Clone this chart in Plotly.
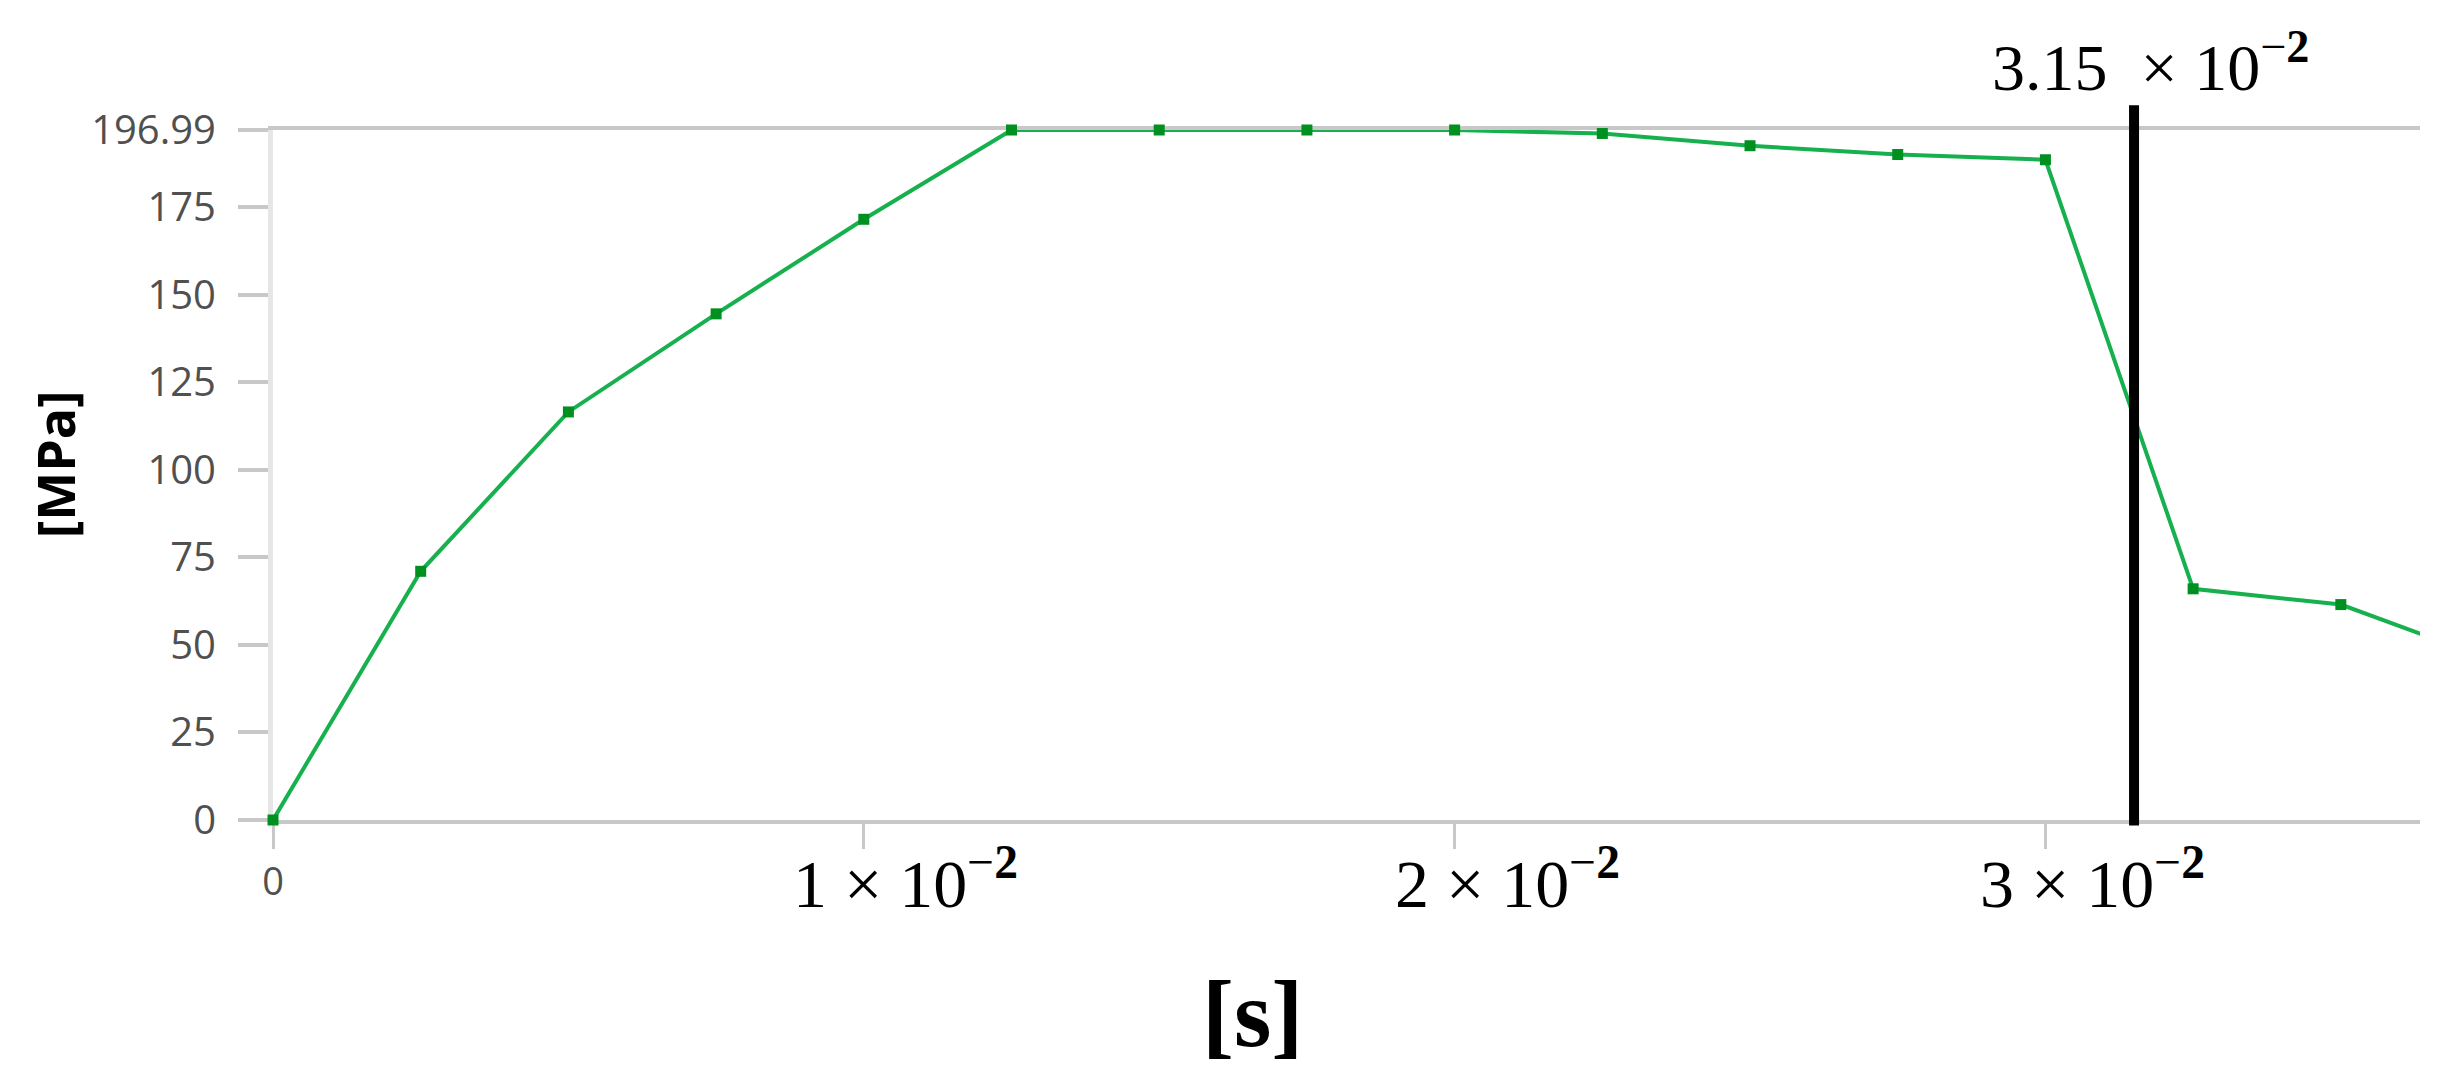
import plotly.graph_objects as go

# time [s] and equivalent stress [MPa]
time_s = [0, 0.0025, 0.005, 0.0075, 0.01, 0.0125, 0.015, 0.0175, 0.02,
          0.0225, 0.025, 0.0275, 0.03, 0.0325, 0.035, 0.0375]
stress_mpa = [0, 71, 116.5, 144.5, 171.5, 196.99, 196.99, 196.99, 196.99,
              196, 192.5, 190, 188.5, 66, 61.5, 46]

y_ticks = [0, 25, 50, 75, 100, 125, 150, 175, 196.99]
y_ticktext = ["0", "25", "50", "75", "100", "125", "150", "175", "196.99"]

x_ticks = [0, 0.01, 0.02, 0.03]
x_label_vals = [0.01, 0.02, 0.03]
x_label_text = ["1 × 10<sup>−<b>2</b></sup>", "2 × 10<sup>−<b>2</b></sup>",
                "3 × 10<sup>−<b>2</b></sup>"]
x_label_shift = [42, 53, 47]

marker_time = 0.0315
marker_text = "3.15&nbsp; × 10<sup>−<b>2</b></sup>"

x_max = 0.03634
y_max = 196.99

serif = "Liberation Serif"
sans = "Open Sans"

fig = go.Figure()
fig.add_trace(go.Scatter(
    x=time_s, y=stress_mpa, mode="lines+markers",
    line=dict(color="#17b04e", width=4),
    marker=dict(symbol="square", size=11, color="#009020"),
    cliponaxis=False, hoverinfo="skip", showlegend=False))

# vertical marker at t = 3.15e-2
fig.add_shape(type="line", xref="x", yref="paper",
              x0=marker_time, x1=marker_time, y0=-0.008, y1=1.036,
              line=dict(color="black", width=10))

annotations = []
for v, t, s in zip(x_label_vals, x_label_text, x_label_shift):
    annotations.append(dict(x=v, y=-0.085, xref="x", yref="paper", text=t,
                            showarrow=False, xshift=s, yanchor="middle",
                            font=dict(family=serif, size=68, color="black")))
annotations.append(dict(x=marker_time, y=1.098, xref="x", yref="paper",
                        text=marker_text, showarrow=False, xshift=16,
                        yanchor="middle",
                        font=dict(family=serif, size=66, color="black")))
annotations.append(dict(x=0.456, y=-0.28, xref="paper", yref="paper",
                        text="<b>[s]</b>", showarrow=False, yanchor="middle",
                        xanchor="center",
                        font=dict(family=serif, size=96, color="black")))
annotations.append(dict(x=-0.1015, y=0.516, xref="paper", yref="paper",
                        text="<b>[MPa]</b>", showarrow=False, textangle=-90,
                        xanchor="center", yanchor="middle",
                        font=dict(family=sans, size=52, color="black")))

fig.update_layout(
    width=2448, height=1073,
    margin=dict(l=265, r=36, t=122, b=261),
    paper_bgcolor="white", plot_bgcolor="white",
    annotations=annotations,
    xaxis=dict(range=[0, x_max], tickvals=x_ticks,
               ticktext=["0", "", "", ""], showgrid=False, zeroline=False,
               showline=True, mirror=True, linecolor="#c8c8c8", linewidth=4,
               layer="below traces",
               ticks="outside", ticklen=25, tickwidth=3, tickcolor="#c8c8c8",
               ticklabelstandoff=0,
               tickfont=dict(family=sans, size=38, color="#505050")),
    yaxis=dict(range=[0, y_max], tickvals=y_ticks, ticktext=y_ticktext,
               showgrid=False, zeroline=False,
               showline=True, linecolor="#e6e6e6", linewidth=5,
               layer="below traces",
               ticks="outside", ticklen=30, tickwidth=4, tickcolor="#c8c8c8",
               ticklabelstandoff=14,
               tickfont=dict(family=sans, size=40, color="#505050")),
)

fig.write_html("out.html")
